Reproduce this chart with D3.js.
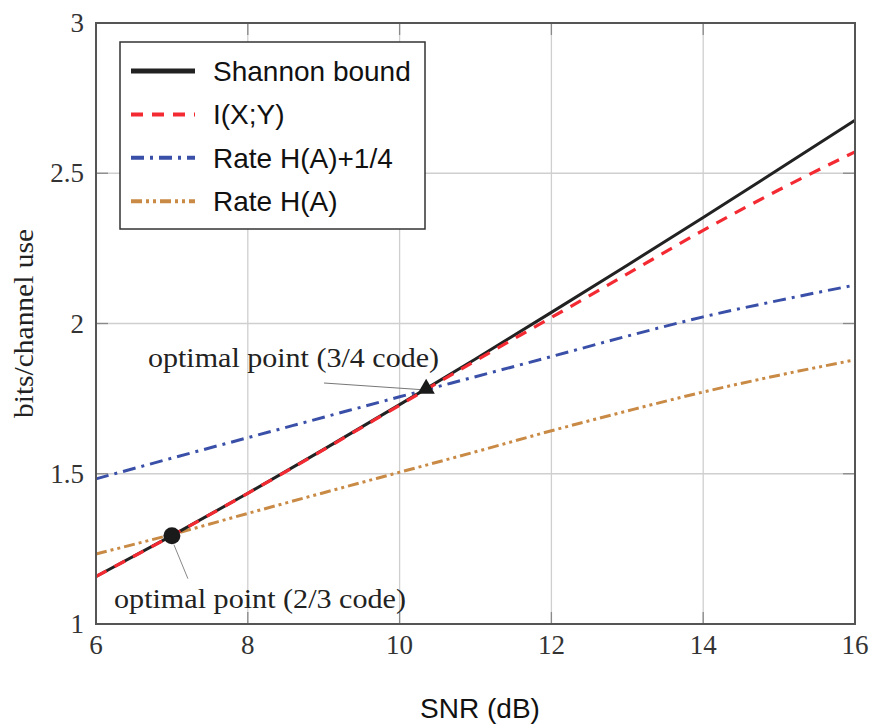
<!doctype html>
<html lang="en">
<head>
<meta charset="utf-8">
<title>Rate vs SNR</title>
<style>
  body { margin: 0; background: #fff; }
  .tick-label { font-family: "Liberation Serif", "DejaVu Serif", serif; font-size: 27px; fill: #333; }
  .axis-title-y { font-family: "Liberation Serif", serif; font-size: 27px; fill: #222; }
  .axis-title-x { font-family: "Liberation Sans", Arial, sans-serif; font-size: 28px; fill: #111; }
  .legend-text { font-family: "Liberation Sans", Arial, sans-serif; font-size: 28px; fill: #111; }
  .note { font-family: "Liberation Serif", serif; font-size: 27px; fill: #222; }
  .grid line { stroke: #cfcfcf; stroke-width: 1.3; }
</style>
</head>
<body>
<script src="https://d3js.org/d3.v7.min.js"></script>
<script>
  // values
  const snr = [6, 7, 8, 9, 10, 11, 12, 13, 14, 15, 16];
  const shannon = [1.158, 1.294, 1.435, 1.581, 1.730, 1.882, 2.037, 2.194, 2.353, 2.514, 2.676];
  const mutualInfo = [1.158, 1.294, 1.435, 1.580, 1.728, 1.876, 2.020, 2.165, 2.310, 2.445, 2.571];
  const rateHA14 = [1.483, 1.552, 1.620, 1.688, 1.756, 1.823, 1.890, 1.958, 2.022, 2.077, 2.128];
  const rateHA = [1.233, 1.298, 1.368, 1.437, 1.505, 1.573, 1.643, 1.709, 1.772, 1.828, 1.879];

  const xTicks = [6, 8, 10, 12, 14, 16];
  const yTicks = [1, 1.5, 2, 2.5, 3];
  const yTickText = ['1', '1.5', '2', '2.5', '3'];

  const seriesNames = ['Shannon bound', 'I(X;Y)', 'Rate H(A)+1/4', 'Rate H(A)'];

  // annotated optimal points
  const circlePoint = { x: 7.0, y: 1.294, label: 'optimal point (2/3 code)' };
  const trianglePoint = { x: 10.35, y: 1.783, label: 'optimal point (3/4 code)' };

  const W = 876, H = 725;
  const plot = { left: 96, right: 855, top: 23, bottom: 624 };

  const svg = d3.select('body').append('svg')
      .attr('width', W)
      .attr('height', H);

  const x = d3.scaleLinear().domain([6, 16]).range([plot.left, plot.right]);
  const y = d3.scaleLinear().domain([1, 3]).range([plot.bottom, plot.top]);

  // grid
  const grid = svg.append('g').attr('class', 'grid');
  grid.selectAll('line.gx').data(xTicks.slice(1, -1)).enter().append('line')
      .attr('x1', d => x(d)).attr('x2', d => x(d))
      .attr('y1', plot.top).attr('y2', plot.bottom);
  grid.selectAll('line.gy').data(yTicks.slice(1, -1)).enter().append('line')
      .attr('y1', d => y(d)).attr('y2', d => y(d))
      .attr('x1', plot.left).attr('x2', plot.right);

  // inward tick marks on all four sides
  const ticks = svg.append('g').attr('stroke', '#8a8a8a').attr('stroke-width', 1.3);
  xTicks.slice(1, -1).forEach(d => {
    ticks.append('line').attr('x1', x(d)).attr('x2', x(d)).attr('y1', plot.bottom).attr('y2', plot.bottom - 12);
    ticks.append('line').attr('x1', x(d)).attr('x2', x(d)).attr('y1', plot.top).attr('y2', plot.top + 12);
  });
  yTicks.slice(1, -1).forEach(d => {
    ticks.append('line').attr('y1', y(d)).attr('y2', y(d)).attr('x1', plot.left).attr('x2', plot.left + 12);
    ticks.append('line').attr('y1', y(d)).attr('y2', y(d)).attr('x1', plot.right).attr('x2', plot.right - 12);
  });

  // tick labels
  svg.selectAll('text.xt').data(xTicks).enter().append('text')
      .attr('class', 'tick-label')
      .attr('x', d => x(d))
      .attr('y', plot.bottom + 30)
      .attr('text-anchor', 'middle')
      .text(d => d);
  svg.selectAll('text.yt').data(yTicks).enter().append('text')
      .attr('class', 'tick-label')
      .attr('x', plot.left - 12)
      .attr('y', d => y(d) + 9)
      .attr('text-anchor', 'end')
      .text((d, i) => yTickText[i]);

  // axis titles
  svg.append('text').attr('class', 'axis-title-x')
      .attr('x', 480).attr('y', 718)
      .attr('text-anchor', 'middle')
      .text('SNR (dB)');
  svg.append('text').attr('class', 'axis-title-y')
      .attr('transform', `translate(33, ${y(2)}) rotate(-90)`)
      .attr('text-anchor', 'middle')
      .attr('textLength', 189).attr('lengthAdjust', 'spacingAndGlyphs')
      .text('bits/channel use');

  // curves
  const styles = [
    { color: '#222222', width: 3, dash: null, legendWidth: 5 },
    { color: '#f42a33', width: 3.2, dash: '12,9', legendWidth: 4 },
    { color: '#3a50a8', width: 3, dash: '13,6,3,6', legendWidth: 4 },
    { color: '#c98a45', width: 3, dash: '11,4,3,4,3,4', legendWidth: 4 }
  ];
  const seriesValues = [shannon, mutualInfo, rateHA14, rateHA];

  const line = d3.line()
      .x(d => x(d[0]))
      .y(d => y(d[1]))
      .curve(d3.curveMonotoneX);

  const drawOrder = [3, 2, 0, 1];
  drawOrder.forEach(i => {
    svg.append('path')
        .datum(snr.map((s, j) => [s, seriesValues[i][j]]))
        .attr('fill', 'none')
        .attr('stroke', styles[i].color)
        .attr('stroke-width', styles[i].width)
        .attr('stroke-dasharray', styles[i].dash)
        .attr('d', line);
  });

  // frame
  svg.append('rect')
      .attr('x', plot.left).attr('y', plot.top)
      .attr('width', plot.right - plot.left)
      .attr('height', plot.bottom - plot.top)
      .attr('fill', 'none')
      .attr('stroke', '#555')
      .attr('stroke-width', 2);

  // annotations
  const cx = x(circlePoint.x), cy = y(circlePoint.y);
  svg.append('line')
      .attr('x1', cx + 2).attr('y1', cy + 9)
      .attr('x2', cx + 16).attr('y2', cy + 43)
      .attr('stroke', '#888').attr('stroke-width', 1);
  svg.append('circle')
      .attr('cx', cx).attr('cy', cy).attr('r', 8.5)
      .attr('fill', '#1a1a1a');
  svg.append('text').attr('class', 'note')
      .attr('x', 114).attr('y', 608)
      .attr('textLength', 292).attr('lengthAdjust', 'spacingAndGlyphs')
      .text(circlePoint.label);

  const tx = x(trianglePoint.x), ty = y(trianglePoint.y);
  svg.append('line')
      .attr('x1', 324).attr('y1', 383)
      .attr('x2', tx - 4).attr('y2', ty + 1)
      .attr('stroke', '#777').attr('stroke-width', 1);
  svg.append('path')
      .attr('d', d3.symbol().type(d3.symbolTriangle).size(130)())
      .attr('transform', `translate(${tx},${ty})`)
      .attr('fill', '#1a1a1a');
  svg.append('text').attr('class', 'note')
      .attr('x', 148).attr('y', 367)
      .attr('textLength', 291).attr('lengthAdjust', 'spacingAndGlyphs')
      .text(trianglePoint.label);

  // legend
  const legend = svg.append('g');
  legend.append('rect')
      .attr('x', 120).attr('y', 42)
      .attr('width', 305).attr('height', 187)
      .attr('fill', '#fff')
      .attr('stroke', '#333')
      .attr('stroke-width', 1.5);
  seriesNames.forEach((name, i) => {
    const ry = 71 + i * 43.4;
    legend.append('line')
        .attr('x1', 131).attr('x2', 195)
        .attr('y1', ry).attr('y2', ry)
        .attr('stroke', styles[i].color)
        .attr('stroke-width', styles[i].legendWidth)
        .attr('stroke-dasharray', styles[i].dash);
    legend.append('text').attr('class', 'legend-text')
        .attr('x', 213).attr('y', ry + 10)
        .text(name);
  });
</script>
</body>
</html>
